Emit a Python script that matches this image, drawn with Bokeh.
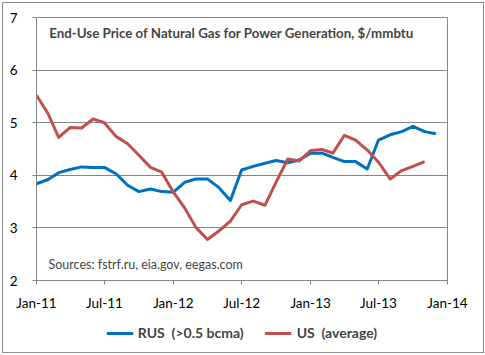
import pandas as pd
from bokeh.plotting import figure
from bokeh.layouts import column
from bokeh.models import (FixedTicker, DatetimeTickFormatter, Legend, LegendItem,
                          Label, Range1d, ColumnDataSource, InlineStyleSheet)
from bokeh.embed import file_html
from bokeh.resources import INLINE

# ---- data ----
months = pd.date_range("2011-01-01", periods=36, freq="MS")
rus = [3.84, 3.92, 4.05, 4.11, 4.16, 4.15, 4.15, 4.03, 3.81, 3.69, 3.74, 3.69,
       3.68, 3.87, 3.93, 3.93, 3.77, 3.52, 4.10, 4.17, 4.23, 4.28, 4.24, 4.29,
       4.42, 4.42, 4.34, 4.26, 4.26, 4.12, 4.67, 4.77, 4.83, 4.93, 4.83, 4.79]
us = [5.52, 5.17, 4.72, 4.91, 4.90, 5.07, 5.00, 4.74, 4.60, 4.38, 4.15, 4.06,
      3.68, 3.37, 3.01, 2.78, 2.94, 3.13, 3.44, 3.51, 3.43, 3.87, 4.31, 4.27,
      4.47, 4.49, 4.42, 4.76, 4.67, 4.48, 4.25, 3.93, 4.09, 4.17, 4.26]
tick_dates = ["2011-01-01", "2011-07-01", "2012-01-01", "2012-07-01",
              "2013-01-01", "2013-07-01", "2014-01-01"]
y_ticks = [2, 3, 4, 5, 6, 7]
title_text = "End-Use Price of Natural Gas for Power Generation, $/mmbtu"
source_text = "Sources: fstrf.ru, eia.gov, eegas.com"
rus_label = "RUS  (>0.5 bcma)"
us_label = "US  (average)"

FONT = "Lato"
GRID = "#868686"
BLUE = "#0070C0"
RED = "#C0504D"

src_rus = ColumnDataSource(dict(x=months, y=rus))
src_us = ColumnDataSource(dict(x=months[:len(us)], y=us))

tick_ms = [pd.Timestamp(d).value // 10**6 for d in tick_dates]

p = figure(width=485, height=316, x_axis_type="datetime",
           x_range=Range1d(pd.Timestamp(tick_dates[0]), pd.Timestamp(tick_dates[-1])),
           y_range=Range1d(y_ticks[0], y_ticks[-1]),
           output_backend="svg", toolbar_location=None,
           min_border_left=36, min_border_right=38,
           min_border_top=17, min_border_bottom=36)

p.line("x", "y", source=src_rus, line_color=BLUE, line_width=3, line_join="round")
p.line("x", "y", source=src_us, line_color=RED, line_width=3, line_join="round")

# axes
p.xaxis.ticker = FixedTicker(ticks=tick_ms)
fmt = "%b-%y"
p.xaxis.formatter = DatetimeTickFormatter(days=fmt, months=fmt, years=fmt)
p.yaxis.ticker = FixedTicker(ticks=y_ticks)
for ax in (p.xaxis, p.yaxis):
    ax.axis_line_color = GRID
    ax.major_tick_line_color = GRID
    ax.major_tick_in = 0
    ax.major_tick_out = 4
    ax.minor_tick_line_color = None
    ax.major_label_text_font = FONT
    ax.major_label_text_font_size = "13.5px"
    ax.major_label_text_color = "black"
p.xaxis.major_label_standoff = 10
p.yaxis.major_label_standoff = 15

p.xgrid.grid_line_color = None
p.ygrid.grid_line_color = GRID
p.ygrid.grid_line_width = 1
p.outline_line_color = GRID
p.outline_line_width = 1
p.background_fill_color = "white"
p.border_fill_color = "white"

# in-plot texts
p.add_layout(Label(x=pd.Timestamp("2011-02-04"), y=6.70, text=title_text,
                   text_font=FONT, text_font_style="bold",
                   text_font_size="13.3px", text_baseline="middle"))
p.add_layout(Label(x=pd.Timestamp("2011-02-02"), y=2.30, text=source_text,
                   text_font=FONT, text_font_size="12.5px",
                   text_baseline="middle"))

# legend strip below the chart (legend-only lines sit outside the visible range)
lg = figure(width=485, height=39, x_range=Range1d(0, 1), y_range=Range1d(0, 1),
            output_backend="svg", toolbar_location=None,
            x_axis_location=None, y_axis_location=None,
            min_border=0, min_border_left=0, min_border_right=0,
            min_border_top=0, min_border_bottom=0)
lg.grid.grid_line_color = None
lg.outline_line_color = None
lg.border_fill_color = "white"
lg.background_fill_color = "white"
lr1 = lg.line(x=[5, 6], y=[5, 5], line_color=BLUE, line_width=3)
lr2 = lg.line(x=[5, 6], y=[5, 5], line_color=RED, line_width=3)
legend = Legend(items=[LegendItem(label=rus_label, renderers=[lr1]),
                       LegendItem(label=us_label, renderers=[lr2])],
                orientation="horizontal", location="top_center",
                label_text_font=FONT, label_text_font_style="bold",
                label_text_font_size="14px", glyph_width=27, glyph_height=16,
                label_standoff=5, spacing=21, padding=0, margin=8,
                border_line_color=None, background_fill_alpha=0)
lg.add_layout(legend)

border_css = InlineStyleSheet(css="""
:host { position: relative; }
:host::after {
  content: ""; position: absolute; left: 2px; top: 2px; right: 1px; bottom: 2px;
  border: 1px solid #8c8c8c; pointer-events: none; z-index: 100;
}
""")
layout = column(p, lg, spacing=0)
layout.stylesheets = [border_css]

open("out.html", "w").write(file_html(layout, INLINE))
